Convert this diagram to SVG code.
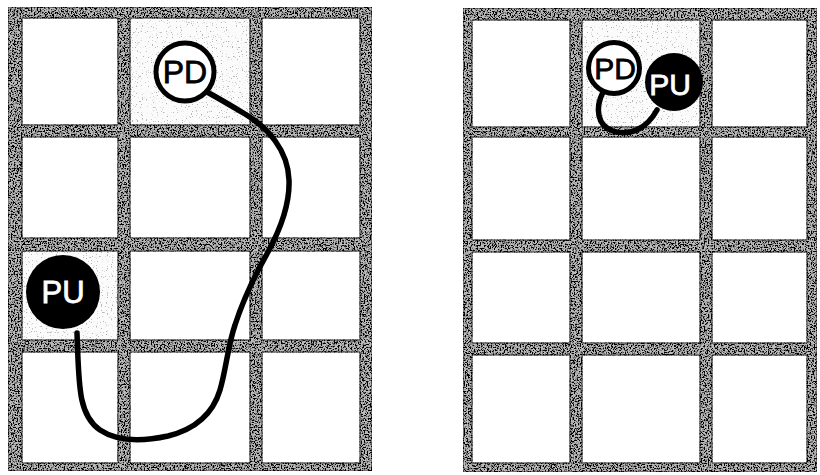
<svg xmlns="http://www.w3.org/2000/svg" width="820" height="475" viewBox="0 0 820 475">
  <defs>
    <filter id="grain" x="0" y="0" width="1" height="1">
      <feTurbulence type="fractalNoise" baseFrequency="0.7" numOctaves="2" seed="4" result="n"/>
      <feColorMatrix in="n" type="matrix" values="0 0 0 0 0  0 0 0 0 0  0 0 0 0 0  0 0 0 6 -2.6" result="k"/>
      <feComposite in="k" in2="SourceAlpha" operator="in" result="kk"/>
      <feMerge><feMergeNode in="SourceGraphic"/><feMergeNode in="kk"/></feMerge>
    </filter>
    <filter id="stipple" x="0" y="0" width="1" height="1">
      <feTurbulence type="fractalNoise" baseFrequency="0.8" numOctaves="1" seed="9" result="n"/>
      <feColorMatrix in="n" type="matrix" values="0 0 0 0 0.45  0 0 0 0 0.45  0 0 0 0 0.45  0 0 0 12 -7.6" result="k"/>
      <feComposite in="k" in2="SourceAlpha" operator="in" result="kk"/>
      <feMerge><feMergeNode in="SourceGraphic"/><feMergeNode in="kk"/></feMerge>
    </filter>
  </defs>
  <style>
    .frame { fill: #bdbdbd; fill-rule: evenodd; stroke: #333; stroke-width: 1; filter: url(#grain); }
    .shade { fill: #fbfbfb; filter: url(#stipple); }
    .wire { fill: none; stroke: #000; stroke-width: 5.5; stroke-linecap: round; stroke-linejoin: round; }
    .pd { fill: #fff; stroke: #000; stroke-width: 5; }
    .pu { fill: #000; }
    .lbl { font-family: "Liberation Sans", Arial, sans-serif; text-anchor: middle; stroke-width: 0.8; }
    .dark { fill: #000; stroke: #000; }
    .light { fill: #fff; stroke: #fff; }
  </style>
  <rect width="820" height="475" fill="#fff"/>

  <g id="grid-left">
    <rect class="shade" x="130" y="18" width="120" height="107"/>
    <rect class="shade" x="22" y="251" width="96" height="89"/>
    <path class="frame" d="M8,7 H372 V471 H8 Z
      M22,18 H118 V125 H22 Z M130,18 H250 V125 H130 Z M262,18 H360 V125 H262 Z
      M22,137 H118 V238 H22 Z M130,137 H250 V238 H130 Z M262,137 H360 V238 H262 Z
      M22,251 H118 V340 H22 Z M130,251 H250 V340 H130 Z M262,251 H360 V340 H262 Z
      M22,352 H118 V463 H22 Z M130,352 H250 V463 H130 Z M262,352 H360 V463 H262 Z"/>
  </g>

  <g id="grid-right">
    <rect class="shade" x="582" y="20" width="118" height="107"/>
    <path class="frame" d="M463,8 H817 V472 H463 Z
      M472,20 H570 V127 H472 Z M582,20 H700 V127 H582 Z M712,20 H807 V127 H712 Z
      M472,137 H570 V240 H472 Z M582,137 H700 V240 H582 Z M712,137 H807 V240 H712 Z
      M472,252 H570 V343 H472 Z M582,252 H700 V343 H582 Z M712,252 H807 V343 H712 Z
      M472,355 H570 V463 H472 Z M582,355 H700 V463 H582 Z M712,355 H807 V463 H712 Z"/>
  </g>

  <g id="connectors">
    <path class="wire" d="M77,333 C79,385 78,415 100,430 C118,442 145,441 168,436 C200,428 214,410 220,390 C226,370 228,345 235,325 C243,300 255,275 268,252 C280,230 290,205 289,180 C288,150 268,128 245,114 C230,105 218,98 207,92"/>
    <path class="wire" d="M603,92 C595,108 597,126 613,131 C629,136 646,130 657,110"/>
  </g>

  <g id="node-pu-left">
    <circle class="pu" cx="63" cy="292" r="37"/>
    <text class="lbl light" x="63" y="303" font-size="31">PU</text>
  </g>

  <g id="node-pd-left">
    <circle class="pd" cx="185" cy="72" r="29"/>
    <text class="lbl dark" x="185" y="83" font-size="32">PD</text>
  </g>

  <g id="node-pu-right">
    <circle class="pu" cx="674" cy="82" r="29"/>
    <text class="lbl light" x="670" y="95" font-size="30">PU</text>
  </g>

  <g id="node-pd-right">
    <circle class="pd" cx="614" cy="68" r="25.5"/>
    <text class="lbl dark" x="615" y="79" font-size="30">PD</text>
  </g>
</svg>
